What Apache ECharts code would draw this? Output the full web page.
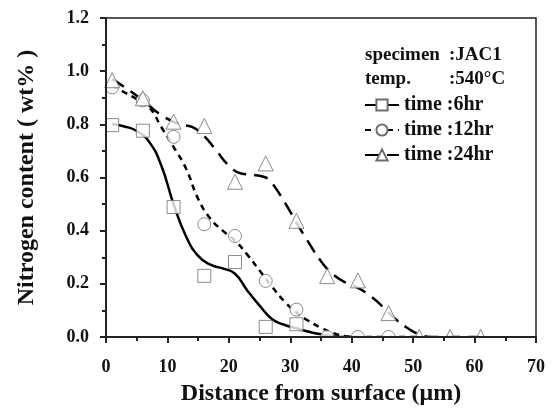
<!DOCTYPE html>
<html>
<head>
<meta charset="utf-8">
<script src="https://cdn.jsdelivr.net/npm/echarts@6/dist/echarts.min.js"></script>
<style>
  html, body { margin: 0; padding: 0; background: #fff; }
  #chart { width: 552px; height: 408px; }
</style>
</head>
<body>
<div id="chart"></div>
<script>
// measured points (distance in um, nitrogen wt%)
const distance = [1, 6, 11, 16, 21, 26, 31, 36, 41, 46, 51, 56, 61];
const n6hr = [0.797, 0.776, 0.489, 0.23, 0.282, 0.038, 0.048];
const n12hr = [0.939, 0.89, 0.753, 0.424, 0.38, 0.211, 0.103, 0, 0, 0];
const n24hr = [0.966, 0.898, 0.81, 0.794, 0.584, 0.653, 0.437, 0.229, 0.213, 0.09, 0, 0, 0];

// fitted curves
const fitX6 = [1, 3, 5, 7, 9, 11, 13, 15, 17, 19, 21, 23, 25, 27, 29, 31, 33, 35, 37, 39, 41];
const fit6 = [0.80, 0.792, 0.775, 0.735, 0.645, 0.5, 0.38, 0.305, 0.272, 0.258, 0.238, 0.175, 0.118, 0.068, 0.046, 0.033, 0.02, 0.01, 0.003, 0, 0];
const fitX12 = [1, 3, 5, 7, 9, 11, 13, 15, 17, 19, 21, 23, 25, 27, 29, 31, 33, 35, 37, 39, 41, 46, 51];
const fit12 = [0.945, 0.92, 0.895, 0.865, 0.79, 0.715, 0.635, 0.52, 0.445, 0.4, 0.362, 0.31, 0.25, 0.19, 0.135, 0.092, 0.06, 0.035, 0.015, 0.003, 0, 0, 0];
const fitX24 = [1, 3, 6, 9, 12, 14, 16, 18, 20, 22, 24, 26, 27, 29, 31, 33, 35, 37, 39, 41, 43, 45, 47, 49, 51, 53, 56, 61];
const fit24 = [0.97, 0.94, 0.89, 0.835, 0.80, 0.79, 0.755, 0.70, 0.645, 0.615, 0.61, 0.60, 0.58, 0.51, 0.43, 0.355, 0.285, 0.235, 0.205, 0.185, 0.155, 0.115, 0.07, 0.035, 0.01, 0, 0, 0];

const xTicks = [0, 10, 20, 30, 40, 50, 60, 70];
const yTicks = [0, 0.2, 0.4, 0.6, 0.8, 1.0, 1.2];

const FONT = 'Liberation Serif';
const pairs = (xs, ys) => ys.map((v, i) => [xs[i], v]);

const markerStyle = { color: '#fff', borderColor: '#6e6e6e', borderWidth: 1 };

function fitSeries(name, xs, ys, symbol, dash) {
  return {
    name: name,
    type: 'line',
    data: pairs(xs, ys),
    smooth: 0.5,
    showSymbol: false,
    symbol: symbol,
    symbolSize: 12,
    itemStyle: markerStyle,
    lineStyle: { color: '#000', width: 2.5, type: dash },
    z: 2
  };
}

function pointSeries(xs, ys, symbol, size) {
  return {
    type: 'scatter',
    data: pairs(xs, ys),
    symbol: symbol,
    symbolSize: size,
    itemStyle: markerStyle,
    z: 3
  };
}

const chart = echarts.init(document.getElementById('chart'));

const textFont = 'bold 19px ' + FONT;

chart.setOption({
  animation: false,
  grid: {
    left: 106, right: 16, top: 18, bottom: 71,
    outerBoundsMode: 'none',
    show: true, borderColor: '#222', borderWidth: 1.5, backgroundColor: 'transparent'
  },
  legend: {
    orient: 'vertical',
    left: 364,
    top: 95,
    padding: 0,
    itemWidth: 34,
    itemHeight: 14,
    itemGap: 5,
    data: ['time :6hr', 'time :12hr', 'time :24hr'],
    textStyle: { fontFamily: FONT, fontWeight: 'bold', fontSize: 20, color: '#111' }
  },
  xAxis: {
    type: 'value',
    min: xTicks[0],
    max: xTicks[xTicks.length - 1],
    interval: 10,
    name: 'Distance from surface (\u03bcm)',
    nameLocation: 'middle',
    nameGap: 45,
    nameTextStyle: { fontFamily: FONT, fontWeight: 'bold', fontSize: 24, color: '#111' },
    axisLine: { lineStyle: { color: '#222', width: 2 } },
    axisTick: { length: 6, lineStyle: { color: '#222', width: 2 } },
    minorTick: { show: true, splitNumber: 2, length: 4, lineStyle: { color: '#222', width: 2 } },
    splitLine: { show: false },
    axisLabel: { fontFamily: FONT, fontWeight: 'bold', fontSize: 18, color: '#111', margin: 21 },
    z: 10
  },
  yAxis: {
    type: 'value',
    min: yTicks[0],
    max: yTicks[yTicks.length - 1],
    interval: 0.2,
    name: 'Nitrogen content ( wt% )',
    nameLocation: 'middle',
    nameGap: 67,
    nameTextStyle: { fontFamily: FONT, fontWeight: 'bold', fontSize: 24, color: '#111' },
    axisLine: { show: true, lineStyle: { color: '#222', width: 2 } },
    axisTick: { show: true, length: 6, lineStyle: { color: '#222', width: 2 } },
    minorTick: { show: true, splitNumber: 2, length: 4, lineStyle: { color: '#222', width: 2 } },
    splitLine: { show: false },
    axisLabel: {
      fontFamily: FONT, fontWeight: 'bold', fontSize: 18, color: '#111', margin: 17,
      formatter: v => v.toFixed(1)
    },
    z: 10
  },
  series: [
    fitSeries('time :6hr', fitX6, fit6, 'rect', 'solid'),
    fitSeries('time :12hr', fitX12, fit12, 'circle', [6, 5]),
    fitSeries('time :24hr', fitX24, fit24, 'triangle', [14, 8]),
    pointSeries(distance, n6hr, 'rect', 13),
    pointSeries(distance, n12hr, 'circle', 13),
    pointSeries(distance, n24hr, 'triangle', 15)
  ]
});

// white strip just under the x axis so markers sitting on 0 show as halves
const origin = chart.convertToPixel({ gridIndex: 0 }, [xTicks[0], yTicks[0]]);
const far = chart.convertToPixel({ gridIndex: 0 }, [xTicks[xTicks.length - 1], yTicks[0]]);
chart.setOption({
  graphic: [
    { type: 'text', left: 365, top: 46, style: { text: 'specimen', font: textFont, fill: '#111' } },
    { type: 'text', left: 449, top: 46, style: { text: ':JAC1', font: textFont, fill: '#111' } },
    { type: 'text', left: 365, top: 70, style: { text: 'temp.', font: textFont, fill: '#111' } },
    { type: 'text', left: 449, top: 70, style: { text: ':540\u00b0C', font: textFont, fill: '#111' } },
    {
      type: 'rect', z: 5,
      shape: { x: origin[0] + 2, y: origin[1] + 1, width: far[0] - origin[0] - 3, height: 10 },
      style: { fill: '#fff' }
    }
  ]
});
</script>
</body>
</html>
